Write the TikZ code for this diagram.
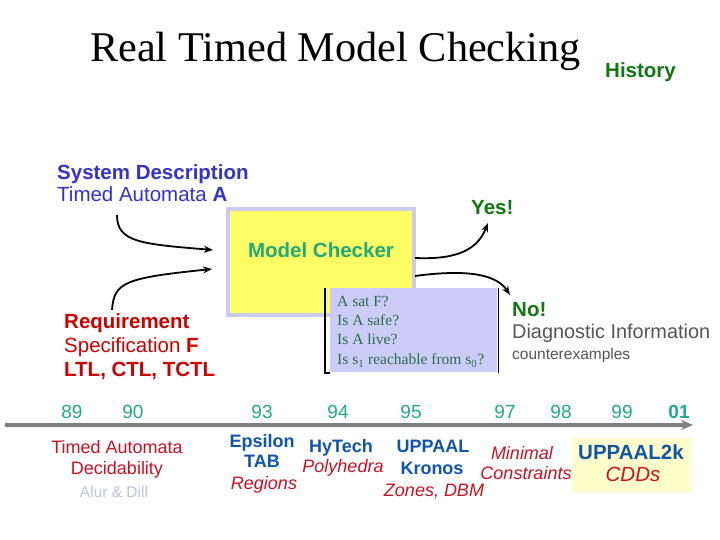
\documentclass[tikz,border=0pt]{standalone}
\usepackage{fontspec}
\setmainfont{Liberation Sans}
\newfontfamily\serifface{Liberation Serif}
\usetikzlibrary{arrows.meta}
\definecolor{sysblue}{RGB}{51,51,204}
\definecolor{histgreen}{RGB}{17,119,17}
\definecolor{checkgreen}{RGB}{34,170,119}
\definecolor{checkyellow}{RGB}{255,255,102}
\definecolor{checkrim}{RGB}{204,204,240}
\definecolor{querylav}{RGB}{204,204,248}
\definecolor{querytext}{RGB}{40,110,70}
\definecolor{diaggray}{RGB}{85,85,85}
\definecolor{reqred}{RGB}{204,0,0}
\definecolor{toolred}{RGB}{204,17,34}
\definecolor{toolblue}{RGB}{17,85,170}
\definecolor{yearteal}{RGB}{34,170,136}
\definecolor{alurgray}{RGB}{192,192,224}
\definecolor{paleyellow}{RGB}{255,255,204}
\definecolor{axisgray}{RGB}{128,128,128}
\providecommand{\titlesize}{\fontsize{42.3}{50}\selectfont}
\providecommand{\mainsize}{\fontsize{20.5}{24}\selectfont}
\providecommand{\diagsize}{\fontsize{19.9}{24}\selectfont}
\providecommand{\smallsize}{\fontsize{15.5}{18}\selectfont}
\providecommand{\toolsize}{\fontsize{18}{21}\selectfont}
\providecommand{\querysize}{\serifface\fontsize{15.5}{19}\selectfont}
\begin{document}
\begin{tikzpicture}[x=1pt,y=1pt,
    txt/.style={inner sep=0,anchor=base west},
    ctr/.style={inner sep=0,anchor=base},
    year/.style={ctr,text=yearteal,font=\fontsize{19}{22}\selectfont},
    tool/.style={ctr,text=toolblue,font=\toolsize\bfseries},
    algo/.style={ctr,text=toolred,font=\toolsize\itshape},
    flow/.style={line width=1.8pt,-{Stealth[length=9pt,width=7pt]}}]
    \pgfmathsetmacro{\axisy}{115}
    \pgfmathsetmacro{\yearbase}{121}
    \useasboundingbox[fill=white] (0,0) rectangle (720,540);
    % heading
    \node[txt,font=\serifface\titlesize] (title) at (90,478) {Real Timed Model Checking};
    \node[txt,text=histgreen,font=\mainsize\bfseries] (history) at (605,462) {History};
    % inputs
    \node[txt,text=sysblue,font=\mainsize\bfseries] (sysdesc) at (57,360) {System Description};
    \node[txt,text=sysblue,font=\mainsize] (systa) at (57,338) {Timed Automata \textbf{A}};
    \node[txt,text=reqred,font=\mainsize\bfseries] (req) at (64,211) {Requirement};
    \node[txt,text=reqred,font=\mainsize] (reqspec) at (64,187) {Specification \textbf{F}};
    \node[txt,text=reqred,font=\mainsize\bfseries] (reqlogic) at (64,163) {LTL, CTL, TCTL};
    % the checker
    \draw[fill=checkyellow,draw=checkrim,line width=4pt] (228,225) rectangle (414,331);
    \node[ctr,text=checkgreen,font=\mainsize\bfseries] (checker) at (321,282) {Model Checker};
    \node[fill=querylav,inner sep=0,minimum width=167,minimum height=84,anchor=south west] (qbox) at (330,168) {};
    \draw[line width=1.3pt] (qbox.north west) ++(-5,0) |- ([yshift=-1]qbox.south west);
    \draw[line width=1.3pt] ([xshift=1]qbox.north east) -- ([xshift=1,yshift=-1]qbox.south east);
    \node[txt,text=querytext,font=\querysize] (q1) at (337,233) {A sat F?};
    \node[txt,text=querytext,font=\querysize] (q2) at (337,214) {Is A safe?};
    \node[txt,text=querytext,font=\querysize] (q3) at (337,195) {Is A live?};
    \node[txt,text=querytext,font=\querysize] (q4) at (337,175) {Is s\textsubscript{1} reachable from s\textsubscript{0}?};
    % answers
    \node[txt,text=histgreen,font=\mainsize\bfseries] (yes) at (471,325) {Yes!};
    \node[txt,text=histgreen,font=\mainsize\bfseries] (no) at (512,223) {No!};
    \node[txt,text=diaggray,font=\diagsize] (diag) at (512,201) {Diagnostic Information};
    \node[txt,text=diaggray,font=\smallsize] (cex) at (512,180) {counterexamples};
    % arrows
    \coordinate (sysout) at (117,325);
    \coordinate (sysin) at (213,290);
    \coordinate (reqout) at (112,230);
    \coordinate (reqin) at (212,271);
    \coordinate (yesout) at (415,282);
    \coordinate (yesin) at (488,317);
    \coordinate (noout) at (415,264);
    \coordinate (noin) at (510,245);
    \draw[flow] (sysout) .. controls (117,298) and (140,296) .. (sysin);
    \draw[flow] (reqout) .. controls (114,258) and (125,262) .. (reqin);
    \draw[flow] (yesout) .. controls (460,280) and (478,292) .. (yesin);
    \draw[flow] (noout) .. controls (460,270) and (495,268) .. (noin);
    % time line
    \coordinate (tstart) at (5,\axisy);
    \coordinate (tend) at (693,\axisy);
    \draw[axisgray,line width=4pt,-{Stealth[length=12pt,width=10pt]}] (tstart) -- (tend);
    \node[year] (y89) at (72,\yearbase) {89};
    \node[year] (y90) at (133,\yearbase) {90};
    \node[year] (y93) at (262,\yearbase) {93};
    \node[year] (y94) at (338,\yearbase) {94};
    \node[year] (y95) at (411,\yearbase) {95};
    \node[year] (y97) at (505,\yearbase) {97};
    \node[year] (y98) at (561,\yearbase) {98};
    \node[year] (y99) at (622,\yearbase) {99};
    \node[year,font=\fontsize{19}{22}\selectfont\bfseries] (y01) at (679,\yearbase) {01};
    % results
    \node[ctr,text=toolred,font=\toolsize] (decid1) at (117,86) {Timed Automata};
    \node[ctr,text=toolred,font=\toolsize] (decid2) at (117,65) {Decidability};
    \node[ctr,text=alurgray,font=\smallsize] (alur) at (114,42) {Alur \& Dill};
    \node[tool] (epsilon) at (262,92) {Epsilon};
    \node[tool] (tab) at (262,72) {TAB};
    \node[algo] (regions) at (264,50) {Regions};
    \node[tool] (hytech) at (341,87) {HyTech};
    \node[algo] (polyhedra) at (343,67) {Polyhedra};
    \node[tool] (uppaal) at (433,87) {UPPAAL};
    \node[tool] (kronos) at (432,65) {Kronos};
    \node[algo] (zones) at (434,43) {Zones, DBM};
    \node[algo] (minimal) at (522,80) {Minimal};
    \node[algo] (constr) at (526,60) {Constraints};
    \fill[paleyellow] (572,48) rectangle (692,102);
    \node[tool,font=\mainsize\bfseries] (uppaalk) at (631,80) {UPPAAL2k};
    \node[algo,font=\mainsize\itshape] (cdds) at (633,58) {CDDs};
\end{tikzpicture}
\end{document}
